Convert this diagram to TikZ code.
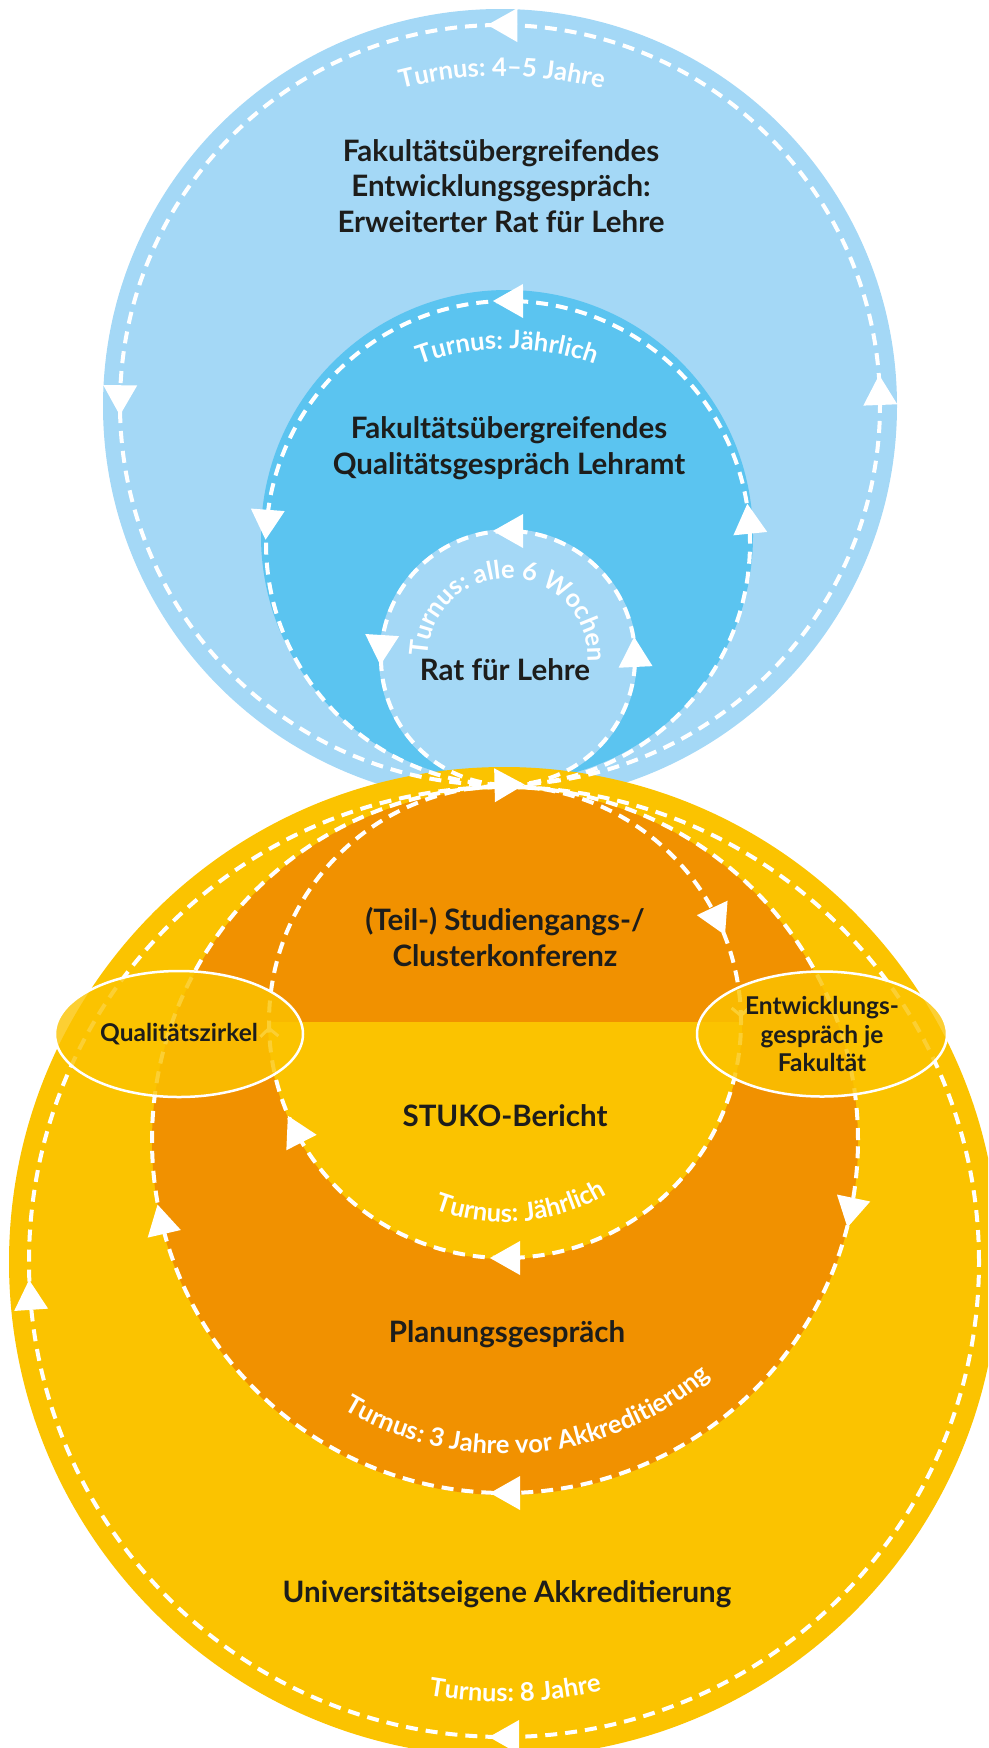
\documentclass[tikz,border=0pt]{standalone}
\usepackage{fontspec}
\setmainfont{Lato}
\usetikzlibrary{decorations.markings,decorations.text,shapes.geometric}

\definecolor{paleblue}{RGB}{164,216,246}
\definecolor{skyblue}{RGB}{91,196,240}
\definecolor{gold}{RGB}{251,195,0}
\definecolor{amber}{RGB}{241,145,0}
\definecolor{ink}{RGB}{29,29,27}

\newcommand{\headfont}{\fontsize{29.5}{35.5}\selectfont\bfseries}
\newcommand{\ovalfont}{\fontsize{24.5}{28.5}\selectfont\bfseries}
\newcommand{\turnusfont}{\fontsize{25.5}{25.5}\selectfont\bfseries}

\tikzset{
  flow/.style={white, line width=4pt, dash pattern=on 12pt off 8pt},
  fwdtip/.style={postaction={decorate,decoration={markings,mark=at position #1 with {\fill[white] (15,0) -- (-15,17) -- (-15,-17) -- cycle;}}}},
  backtip/.style={postaction={decorate,decoration={markings,mark=at position #1 with {\fill[white] (-15,0) -- (15,17) -- (15,-17) -- cycle;}}}},
  barbtip/.style={postaction={decorate,decoration={markings,mark=at position #1 with {\draw[white, solid, line width=3pt] (4,9) -- (-4,0) -- (4,-9);}}}},
  headline/.style={text=ink, font=\headfont, align=center, inner sep=0pt},
  zirkel/.style={ellipse, draw=white, line width=2.5pt, fill=gold, fill opacity=0.8, text opacity=1, text=ink, font=\ovalfont, align=center, inner sep=0pt},
  turnus/.style={decorate, decoration={text along path, text align=center, text color=white, text={|\turnusfont|#1}}}
}

\begin{document}
\begin{tikzpicture}[x=1pt, y=1pt]
\useasboundingbox (0,0) rectangle (988,-1748);
\clip (0,0) rectangle (988,-1748);

\coordinate (bigc) at (500,-405);
\coordinate (midc) at (508,-543);
\coordinate (smallc) at (508,-658);
\coordinate (goldc) at (504,-1262);
\coordinate (amberc) at (505,-1140);
\coordinate (innerc) at (505,-1022);

% fills
\fill[paleblue] (500,-406) circle[radius=397];
\fill[skyblue] (507,-536) circle[radius=246];
\fill[paleblue] (508,-658) circle[radius=129];
\fill[gold] (goldc) circle[radius=495];
\fill[amber] (505,-1142) circle[radius=353];
\fill[gold] ([shift={(180:237)}]innerc) arc[start angle=180, end angle=360, radius=237] -- cycle;

% cycles
\draw[flow, fwdtip=0.249, fwdtip=0.498, fwdtip=0.0063, fwdtip=0.754] (bigc) circle[radius=380];
\draw[flow, fwdtip=0.25, fwdtip=0.488, fwdtip=0.016] (midc) circle[radius=242];
\draw[flow, fwdtip=0.25, fwdtip=0.49, fwdtip=0.0076] (smallc) circle[radius=127];
\draw[flow, backtip=0.511, backtip=0.75] (goldc) circle[radius=475];
\draw[flow, backtip=0.536, backtip=0.967, backtip=0.75] (amberc) circle[radius=353];
\draw[flow, backtip=0.07, backtip=0.575, backtip=0.75, barbtip=0.507, barbtip=0.007] (innerc) circle[radius=236];

\node[zirkel, minimum width=248, minimum height=126] (qzirkel) at (179,-1034) {Qualitätszirkel};
\node[zirkel, minimum width=250, minimum height=125] (entwicklung) at (822,-1034) {Entwicklungs-\\gespräch je\\Fakultät};

\node[headline] (erweitert) at (501,-186) {Fakultätsübergreifendes\\Entwicklungsgespräch:\\Erweiterter Rat für Lehre};
\node[headline] (lehramt) at (509,-448) {Fakultätsübergreifendes\\Qualitätsgespräch Lehramt};
\node[headline, anchor=base] (rat) at (505,-680) {Rat für Lehre};
\node[headline] (konferenz) at (505,-937) {(Teil-) Studiengangs-/\\Clusterkonferenz};
\node[headline, anchor=base] (stuko) at (505,-1126) {STUKO-Bericht};
\node[headline, anchor=base] (planung) at (507,-1342) {Planungsgespräch};
\node[headline, anchor=base] (akkred) at (507,-1602) {Universitätseigene Akkreditierung};

% turnus labels
\coordinate (tbig) at (502,-478);
\coordinate (tmid) at (507,-604);
\path[turnus={Turnus: 4–5 Jahre}] ([shift={(112:402)}]tbig) arc[start angle=112, end angle=68, radius=402];
\path[turnus={Turnus: Jährlich}] ([shift={(117:255)}]tmid) arc[start angle=117, end angle=63, radius=255];
\path[turnus={Turnus: alle 6 Wochen}] ([shift={(184:80)}]smallc) arc[start angle=184, end angle=-8, radius=80];
\path[turnus={Turnus: Jährlich}] ([shift={(238:200)}]innerc) arc[start angle=238, end angle=312, radius=200];
\path[turnus={Turnus: 3 Jahre vor Akkreditierung}] ([shift={(230:314)}]amberc) arc[start angle=230, end angle=320, radius=314];
\path[turnus={Turnus: 8 Jahre}] ([shift={(251.5:440)}]goldc) arc[start angle=251.5, end angle=291.5, radius=440];
\end{tikzpicture}
\end{document}
